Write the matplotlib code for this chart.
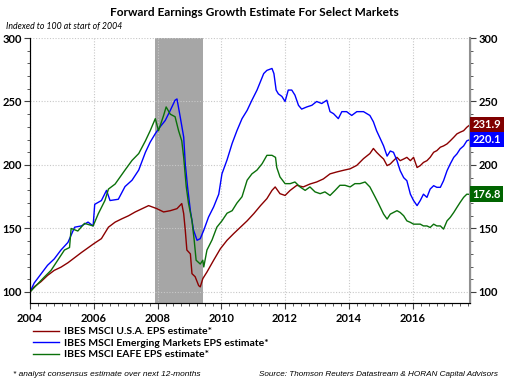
import numpy as np
import matplotlib
matplotlib.use("Agg")
import matplotlib.pyplot as plt
import matplotlib.transforms as mtransforms
from matplotlib.ticker import MultipleLocator

# --- datos (indice 100 = inicio 2004) ---
usa_t = [2004.00, 2004.13, 2004.34, 2004.55, 2004.76, 2004.97, 2005.19, 2005.40, 2005.61, 2006.00,
         2006.24, 2006.46, 2006.67, 2006.88, 2007.09, 2007.30, 2007.51, 2007.72, 2007.98, 2008.19,
         2008.40, 2008.61, 2008.76, 2008.82, 2008.87, 2008.92, 2009.03, 2009.08, 2009.18, 2009.29,
         2009.34, 2009.42, 2009.55, 2009.76, 2009.97, 2010.18, 2010.39, 2010.60, 2010.81, 2011.02,
         2011.23, 2011.43, 2011.59, 2011.69, 2011.84, 2012.00, 2012.16, 2012.37, 2012.57, 2012.78,
         2012.99, 2013.20, 2013.41, 2013.62, 2013.83, 2014.04, 2014.25, 2014.46, 2014.66, 2014.77,
         2014.87, 2014.99, 2015.09, 2015.20, 2015.30, 2015.40, 2015.51, 2015.61, 2015.72, 2015.82,
         2015.93, 2016.03, 2016.14, 2016.24, 2016.34, 2016.45, 2016.55, 2016.66, 2016.76, 2016.87,
         2016.97, 2017.08, 2017.18, 2017.29, 2017.39, 2017.49, 2017.60, 2017.70, 2017.81]
usa_v = [100, 104, 108, 113, 117, 119.5, 123, 127, 131, 138,
         142, 151, 155, 157.6, 160, 163, 165.5, 168, 165.6, 163,
         164, 165.6, 169.6, 161.7, 148.6, 133, 130, 114.4, 112, 105,
         104, 110.5, 115.7, 125, 134, 140.7, 146, 151, 156, 161.7,
         168, 173.5, 180, 182.7, 177.4, 176, 180, 184, 182.7, 185,
         186.6, 189, 193, 194.5, 195.8, 197, 199.7, 205, 209, 213,
         210, 207, 204.7, 199.5, 200.8, 203.4, 206, 203.4, 204.7, 206,
         203.4, 206, 198, 199.5, 202, 203.4, 206, 210, 211.3, 214,
         215, 216.6, 219, 221.8, 224.5, 225.8, 227, 229.7, 231.9]

em_t = [2004.00, 2004.13, 2004.34, 2004.55, 2004.76, 2004.97, 2005.19, 2005.40, 2005.61, 2005.82,
        2005.98, 2006.03, 2006.24, 2006.40, 2006.51, 2006.77, 2006.98, 2007.20, 2007.41, 2007.62,
        2007.77, 2007.93, 2008.08, 2008.24, 2008.40, 2008.55, 2008.61, 2008.71, 2008.82, 2008.87,
        2008.94, 2009.03, 2009.13, 2009.24, 2009.34, 2009.45, 2009.60, 2009.76, 2009.92, 2010.02,
        2010.18, 2010.34, 2010.49, 2010.65, 2010.81, 2010.96, 2011.12, 2011.33, 2011.43, 2011.59,
        2011.65, 2011.72, 2011.79, 2011.90, 2012.00, 2012.10, 2012.21, 2012.31, 2012.42, 2012.52,
        2012.68, 2012.84, 2012.99, 2013.15, 2013.31, 2013.41, 2013.52, 2013.67, 2013.78, 2013.93,
        2014.09, 2014.25, 2014.46, 2014.66, 2014.77, 2014.87, 2014.99, 2015.09, 2015.20, 2015.30,
        2015.40, 2015.51, 2015.61, 2015.72, 2015.82, 2015.93, 2016.03, 2016.14, 2016.24, 2016.34,
        2016.45, 2016.55, 2016.66, 2016.76, 2016.87, 2016.97, 2017.08, 2017.18, 2017.29, 2017.39,
        2017.49, 2017.60, 2017.70, 2017.81]
em_v = [100, 107, 114, 121, 126, 133, 139, 151, 152, 155,
        152, 169, 172, 180, 172, 173, 183, 188, 196, 210,
        218, 224.7, 230, 235, 243, 251, 252, 238, 222, 201,
        183, 164, 148.6, 140.7, 142, 148.6, 159, 167, 177, 193,
        204, 217, 227, 236.5, 243, 251, 259, 272, 274.5, 276,
        272, 259, 256, 254, 250, 259, 259, 255, 247, 244,
        245.7, 247, 250, 248.4, 251, 242, 240.4, 236.5, 242, 242,
        239, 242, 242, 239, 234, 227, 220.5, 215, 207, 211,
        210, 203.4, 195.5, 190, 187.6, 177, 172, 168, 172, 177,
        174.5, 181, 183.7, 182.4, 182.4, 187.6, 195.5, 200.8, 206, 208.7,
        212.6, 215, 219, 220.1]

eafe_t = [2004.00, 2004.23, 2004.44, 2004.66, 2004.87, 2005.08, 2005.24, 2005.29, 2005.50, 2005.71,
          2005.98, 2006.14, 2006.35, 2006.46, 2006.67, 2006.98, 2007.20, 2007.41, 2007.62, 2007.77,
          2007.93, 2008.03, 2008.19, 2008.27, 2008.40, 2008.55, 2008.66, 2008.76, 2008.82, 2008.90,
          2008.97, 2009.08, 2009.15, 2009.21, 2009.34, 2009.42, 2009.45, 2009.55, 2009.71, 2009.86,
          2010.02, 2010.18, 2010.34, 2010.49, 2010.65, 2010.81, 2010.96, 2011.12, 2011.28, 2011.43,
          2011.59, 2011.70, 2011.74, 2011.84, 2012.00, 2012.16, 2012.31, 2012.47, 2012.63, 2012.78,
          2012.94, 2013.10, 2013.25, 2013.41, 2013.57, 2013.72, 2013.88, 2014.04, 2014.19, 2014.35,
          2014.51, 2014.66, 2014.82, 2014.93, 2015.09, 2015.20, 2015.30, 2015.40, 2015.51, 2015.61,
          2015.72, 2015.82, 2015.93, 2016.03, 2016.14, 2016.24, 2016.34, 2016.45, 2016.55, 2016.66,
          2016.76, 2016.87, 2016.97, 2017.08, 2017.18, 2017.29, 2017.39, 2017.49, 2017.60, 2017.70,
          2017.81]
eafe_v = [100, 106, 111.5, 117, 125, 133, 135, 150, 148, 154,
          152, 161.5, 172, 181, 185, 196, 203.6, 209, 219, 227,
          236.5, 227, 239, 245.7, 240, 238, 227, 219, 206, 183,
          170, 156, 140.7, 125, 122, 125, 119.7, 133, 141, 151,
          156, 162, 164, 170, 175, 188, 193, 196, 201, 207.6,
          207.6, 206, 198, 190.6, 185.3, 185.3, 186.6, 182.7, 180, 182.7,
          178.8, 177.4, 178.8, 176, 180, 184, 184, 182.7, 185.3, 185.3,
          186.6, 182.7, 175, 169.6, 161.3, 157.4, 161.3, 162.6, 164, 162.6,
          160, 156, 154.8, 153.4, 153.4, 153.4, 152, 152, 150.8, 153.4,
          152, 152, 149.5, 156, 158.7, 162.6, 166.6, 170.5, 174.5, 177,
          176.8]

recesion = (2007.92, 2009.42)
etiquetas = ["IBES MSCI U.S.A. EPS estimate*",
             "IBES MSCI Emerging Markets EPS estimate*",
             "IBES MSCI EAFE EPS estimate*"]
ultimos = [231.9, 220.1, 176.8]
colores = ["#8B0000", "#0000FF", "#0A700A"]
colores_caja = ["#800000", "#0000FF", "#006400"]

fuente = "Lato"

# --- figura ---
fig = plt.figure(figsize=(5.09, 3.81), dpi=100)
ax = fig.add_axes([30 / 509, 1 - 303 / 381, 440 / 509, 265 / 381])

ax.axvspan(*recesion, color="#a6a6a6", lw=0, zorder=0.5)

series = [(usa_t, usa_v), (em_t, em_v), (eafe_t, eafe_v)]
lineas = []
for (t, v), c, lab in zip(series, colores, etiquetas):
    ln, = ax.plot(t, v, color=c, lw=1.0, label=lab, zorder=3)
    lineas.append(ln)

ax.set_xlim(2004, 2017.8)
ax.set_ylim(91.3, 300)
ax.xaxis.set_major_locator(MultipleLocator(2))
ax.xaxis.set_minor_locator(MultipleLocator(0.25))
ax.yaxis.set_major_locator(MultipleLocator(50))
ax.set_yticks(np.arange(100, 301, 10), minor=True)
ax.grid(True, which="major", ls=(0, (1, 1.5)), color="#c8c8c8", lw=0.8)

ax2 = ax.twinx()
ax2.set_ylim(ax.get_ylim())
ax2.yaxis.set_major_locator(MultipleLocator(50))
ax2.set_yticks(np.arange(100, 301, 10), minor=True)

for a in (ax, ax2):
    a.spines["top"].set_visible(False)
    a.tick_params(which="major", length=4, width=0.8, color="#404040")
    a.tick_params(which="minor", length=2, width=0.6, color="#404040")
    for lbl in a.get_xticklabels() + a.get_yticklabels():
        lbl.set_fontfamily(fuente)
        lbl.set_fontweight("bold")
        lbl.set_fontsize(8)
ax.spines["left"].set_color("#404040")
ax.spines["bottom"].set_color("#404040")
ax2.spines["right"].set_color("#909090")
ax2.spines["right"].set_linewidth(1.5)
ax.tick_params(axis="x", pad=3)
ax.tick_params(axis="y", pad=2)
ax2.tick_params(axis="y", pad=2)
ax.set_xticks([2004, 2006, 2008, 2010, 2012, 2014, 2016])
ax.set_xticklabels(["2004", "2006", "2008", "2010", "2012", "2014", "2016"],
                   fontfamily=fuente, fontweight="bold", fontsize=8)

# cajas con ultimo valor
trans = mtransforms.blended_transform_factory(ax.transAxes, ax.transData)
for val, c in zip(ultimos, colores_caja):
    ax2.text(1.006, val, f"{val:.1f}", transform=trans, ha="left", va="center",
             color="white", fontfamily=fuente, fontweight="bold", fontsize=8,
             bbox=dict(boxstyle="square,pad=0.22", fc=c, ec="none"), zorder=5,
             clip_on=False)

# textos
fig.text(0.5, 1 - 12 / 381, "Forward Earnings Growth Estimate For Select Markets",
         ha="center", va="center", fontfamily=fuente, fontweight="bold", fontsize=8.6)
fig.text(6 / 509, 1 - 27 / 381, "Indexed to 100 at start of 2004", ha="left", va="center",
         fontfamily=fuente, fontstyle="italic", fontsize=6.3)

leg = fig.legend(handles=lineas, loc="upper left", bbox_to_anchor=(33 / 509, 1 - 327 / 381),
                 frameon=False, handlelength=2.5, handletextpad=0.45, labelspacing=0.22,
                 borderaxespad=0, borderpad=0, prop=dict(family=fuente, weight="bold", size=7.5))

fig.text(13 / 509, 1 - 374 / 381, "* analyst consensus estimate over next 12-months",
         ha="left", va="center", fontfamily="Liberation Sans", fontstyle="italic", fontsize=6)
fig.text(498 / 509, 1 - 374 / 381, "Source: Thomson Reuters Datastream & HORAN Capital Advisors",
         ha="right", va="center", fontfamily="Liberation Sans", fontstyle="italic", fontsize=5.85)

fig.savefig("out.png", dpi=100)
